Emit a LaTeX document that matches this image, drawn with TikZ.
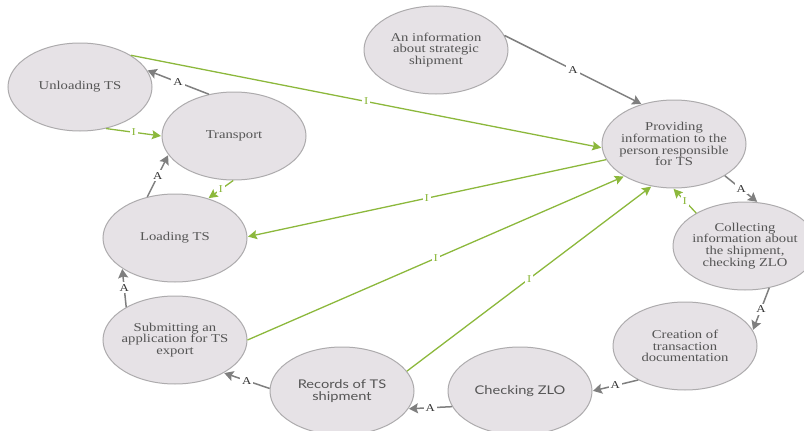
\documentclass[tikz,border=0pt]{standalone}
\usepackage{fontspec}
\setmainfont[FakeStretch=1.22]{Liberation Serif}
\newfontfamily\recfont[FakeStretch=1.22]{Lato}
\usetikzlibrary{shapes.geometric,arrows.meta}

\definecolor{stepfill}{HTML}{E6E2E6}
\definecolor{stepline}{HTML}{ADABAD}
\definecolor{steptext}{HTML}{555555}
\definecolor{actgray}{HTML}{7F7F7F}
\definecolor{infogreen}{HTML}{8CB83C}

\tikzstyle{pixelgrid}=[x=1pt,y=-1pt]
\tikzstyle{stepbox}=[ellipse,draw=stepline,line width=1pt,fill=stepfill,
	minimum width=144pt,minimum height=88pt,inner sep=-9pt,align=center,
	text=steptext,font=\fontsize{12}{11.8}\selectfont]
\tikzstyle{actedge}=[draw=actgray,line width=1.5pt,
	-{Stealth[length=9pt,width=10pt,inset=1.5pt]},shorten >=0.5pt]
\tikzstyle{infoedge}=[draw=infogreen,line width=1.3pt,
	-{Stealth[length=9pt,width=9pt,inset=1.5pt]},shorten >=0.5pt]
\tikzstyle{alabel}=[fill=white,inner sep=2pt,text=black!80,
	font=\fontsize{10.5}{10.5}\selectfont]
\tikzstyle{ilabel}=[fill=white,inner sep=2pt,text=infogreen,
	font=\fontsize{10.5}{10.5}\selectfont]

\begin{document}
\begin{tikzpicture}[pixelgrid]
	\useasboundingbox (0,0) rectangle (804,431);
	\node[stepbox] (unload) at (80,87) {Unloading TS};
	\node[stepbox] (transport) at (234,136) {Transport};
	\node[stepbox] (load) at (175,238) {Loading TS};
	\node[stepbox] (submit) at (175,340) {Submitting an\\application for TS\\export};
	\node[stepbox,font=\recfont\fontsize{12}{12.5}\selectfont] (records) at (342,391) {Records of TS\\shipment};
	\node[stepbox,font=\recfont\fontsize{12}{12.5}\selectfont] (checkzlo) at (520,391) {Checking ZLO};
	\node[stepbox] (creation) at (685,346) {Creation of\\transaction\\documentation};
	\node[stepbox] (collect) at (745,246) {Collecting\\information about\\the shipment,\\checking ZLO};
	\node[stepbox] (provide) at (674,144) {Providing\\information to the\\person responsible\\for TS};
	\node[stepbox] (info) at (436,50) {An information\\about strategic\\shipment};
%
	\draw[actedge] (info.12) -- node[alabel]{A} (provide.129);
	\draw[actedge] (provide.-32) -- node[alabel]{A} (collect.74);
	\draw[actedge] (collect.-60) -- node[alabel]{A} (creation.13);
	\draw[actedge] (creation.-144) -- node[alabel]{A} (checkzlo.0);
	\draw[actedge] (checkzlo.-167) -- node[alabel]{A} (records.-15);
	\draw[actedge] (records.178) -- node[alabel]{A} (submit.-34);
	\draw[actedge] (submit.146) -- node[alabel]{A} (load.-150);
	\draw[actedge] (load.124) -- node[alabel]{A} (transport.-164);
	\draw[actedge] (transport.121) -- node[alabel]{A} (unload.14);
%
	\draw[infoedge] (unload.-58) -- node[ilabel]{I} (transport.180);
	\draw[infoedge] (transport.-91) -- node[ilabel]{I} (load.50);
	\draw[infoedge] (collect.146) -- node[ilabel]{I} (provide.-91);
	\draw[infoedge] (unload.32) -- node[ilabel]{I} (provide.183);
	\draw[infoedge] (provide.193) -- node[ilabel]{I} (load.1);
	\draw[infoedge] (submit.0) -- node[ilabel]{I} (provide.213);
	\draw[infoedge] (records.17) -- node[ilabel]{I} (provide.242);
\end{tikzpicture}
\end{document}
